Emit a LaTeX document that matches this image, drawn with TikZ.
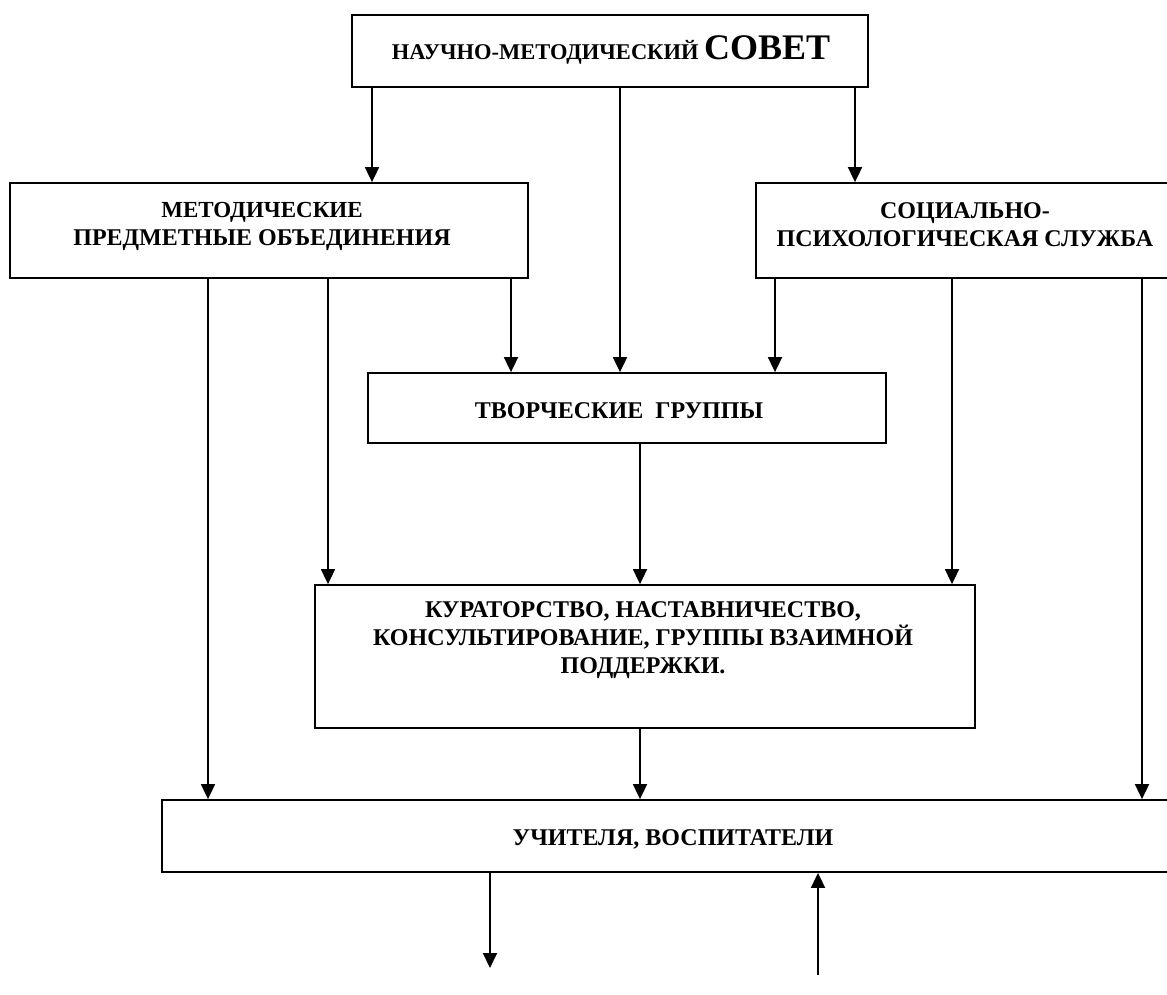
\documentclass[tikz,border=0pt]{standalone}
\usepackage{fontspec}
\setmainfont{Liberation Serif}
\usetikzlibrary{arrows.meta}
\begin{document}
\begin{tikzpicture}[x=1pt,y=-1pt,
  box/.style={draw,line width=1.8pt,inner sep=0pt},
  txt/.style={font=\bfseries\fontsize{24}{28}\selectfont,align=center,inner sep=0pt},
  arr/.style={line width=1.8pt,-{Triangle[length=15pt,width=14pt]}}]
\useasboundingbox (0,0) rectangle (1167,994);
\clip (0,0) rectangle (1167,994);
% boxes
\node[box,minimum width=516,minimum height=72] (top) at (610,51) {};
\node[box,minimum width=518,minimum height=95] (lb) at (269,230.5) {};
\node[box,minimum width=434,minimum height=95] (sp) at (973,230.5) {};
\node[box,minimum width=518,minimum height=70] (tg) at (627,408) {};
\node[box,minimum width=660,minimum height=143] (ku) at (645,656.5) {};
\node[box,minimum width=1028,minimum height=72] (uv) at (676,836) {};
% texts
\node[txt,anchor=base] (ttop) at (611,59) {\fontsize{22.5}{26}\selectfont НАУЧНО-МЕТОДИЧЕСКИЙ \fontsize{36}{40}\selectfont СОВЕТ};
\node[txt,anchor=north] (tlb) at (262,202) {\fontsize{23}{27}\selectfont МЕТОДИЧЕСКИЕ\\ПРЕДМЕТНЫЕ ОБЪЕДИНЕНИЯ};
\node[txt,anchor=north] (tsp) at (965,202) {СОЦИАЛЬНО-\\ПСИХОЛОГИЧЕСКАЯ СЛУЖБА};
\node[txt,anchor=base] (ttg) at (619,418) {ТВОРЧЕСКИЕ\ \ ГРУППЫ};
\node[txt,anchor=north] (tku) at (643,601) {КУРАТОРСТВО, НАСТАВНИЧЕСТВО,\\КОНСУЛЬТИРОВАНИЕ, ГРУППЫ ВЗАИМНОЙ\\ПОДДЕРЖКИ.};
\node[txt,anchor=base] (tuv) at (673,845) {УЧИТЕЛЯ, ВОСПИТАТЕЛИ};
% x positions
\coordinate (a372) at (372,0);
\coordinate (a620) at (620,0);
\coordinate (a855) at (855,0);
\coordinate (a208) at (208,0);
\coordinate (a328) at (328,0);
\coordinate (a511) at (511,0);
\coordinate (a775) at (775,0);
\coordinate (a952) at (952,0);
\coordinate (a1142) at (1142,0);
\coordinate (a640) at (640,0);
\coordinate (outdown) at (490,968);
\coordinate (inup) at (818,975);
% connectors
\draw[arr] (top.south -| a372) -- (lb.north -| a372);
\draw[arr] (top.south -| a620) -- (tg.north -| a620);
\draw[arr] (top.south -| a855) -- (sp.north -| a855);
\draw[arr] (lb.south -| a208) -- (uv.north -| a208);
\draw[arr] (lb.south -| a328) -- (ku.north -| a328);
\draw[arr] (lb.south -| a511) -- (tg.north -| a511);
\draw[arr] (sp.south -| a775) -- (tg.north -| a775);
\draw[arr] (sp.south -| a952) -- (ku.north -| a952);
\draw[arr] (sp.south -| a1142) -- (uv.north -| a1142);
\draw[arr] (tg.south -| a640) -- (ku.north -| a640);
\draw[arr] (ku.south -| a640) -- (uv.north -| a640);
\draw[arr] (uv.south -| outdown) -- (outdown);
\draw[arr] (inup) -- (uv.south -| inup);
\end{tikzpicture}
\end{document}
